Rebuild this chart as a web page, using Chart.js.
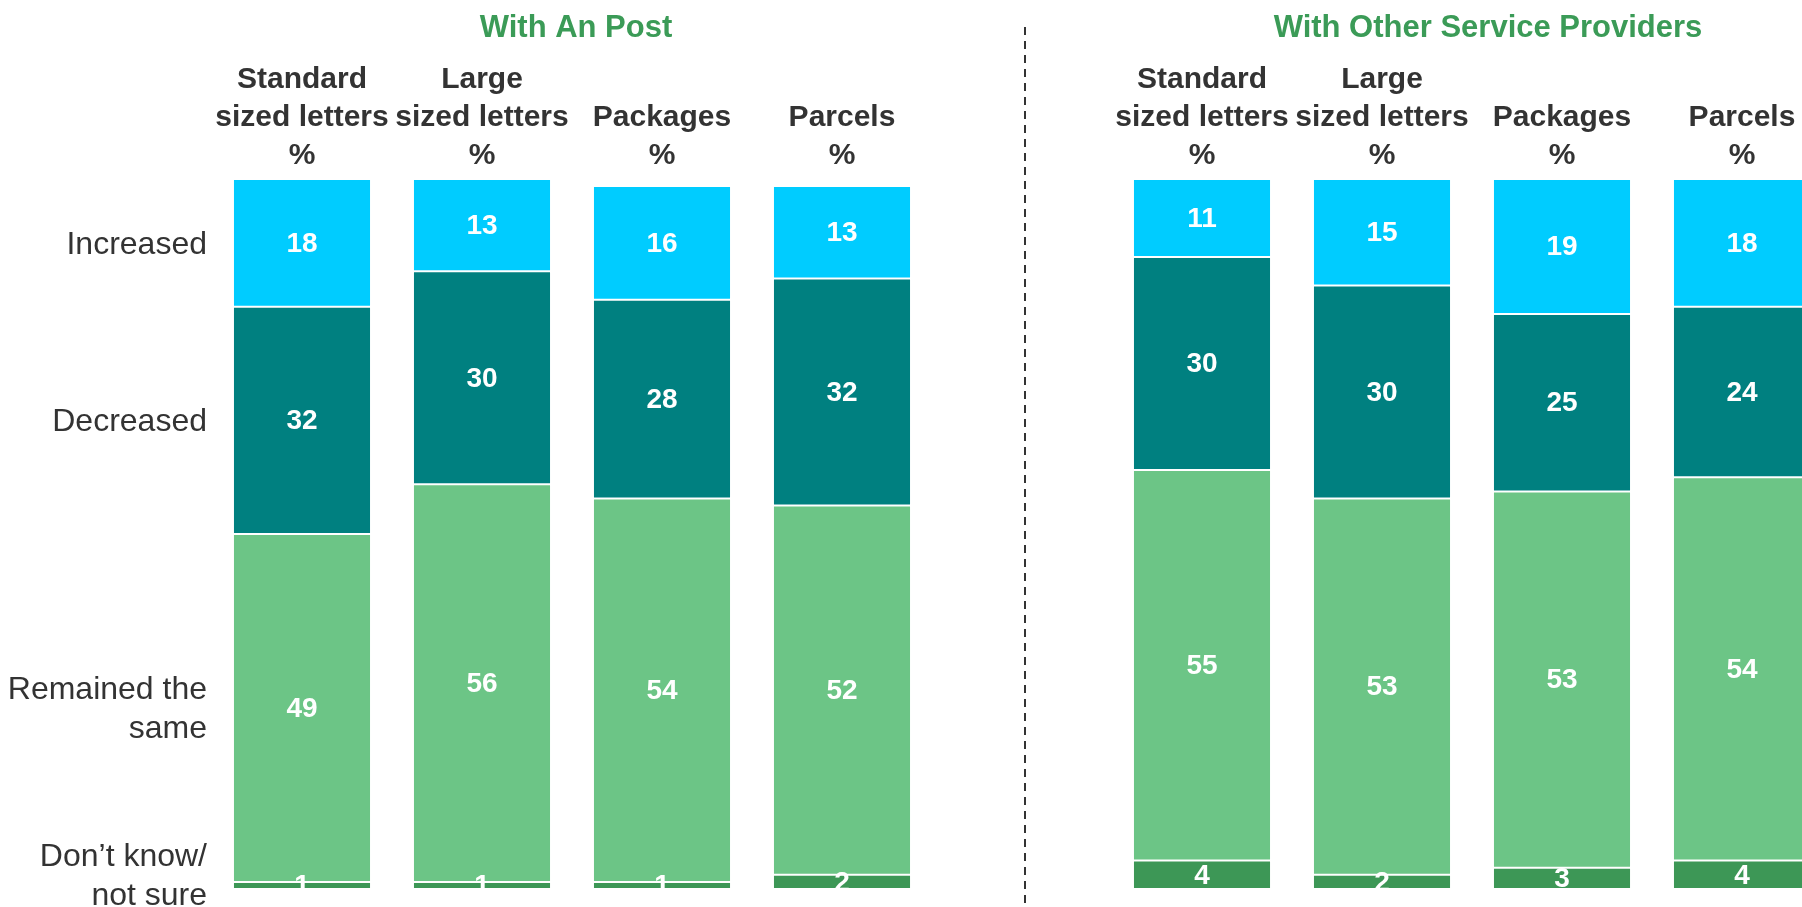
<!DOCTYPE html>
<html>
<head>
<meta charset="utf-8">
<title>Change in postal usage</title>
<script src="https://cdn.jsdelivr.net/npm/chart.js@4.4.1/dist/chart.umd.min.js"></script>
<style>
  html, body { margin: 0; padding: 0; background: #fff; }
  /* last column runs off the right edge, so the canvas is wider than the frame */
  #frame { width: 1802px; height: 907px; overflow: hidden; }
  #wrap { width: 1832px; height: 907px; }
</style>
</head>
<body>
<div id="frame">
  <div id="wrap"><canvas id="usageChart"></canvas></div>
</div>
<script>
// columns (x-axis) and the four answers (stacked segments)
const columns = [
  ["Standard", "sized letters", "%"],
  ["Large", "sized letters", "%"],
  ["Packages", "%"],
  ["Parcels", "%"],
];
const answers = [["Increased"], ["Decreased"], ["Remained the", "same"], ["Don’t know/", "not sure"]];
const groupTitles = ["With An Post", "With Other Service Providers"];

// With An Post
const increasedAnPost = [18, 13, 16, 13];
const decreasedAnPost = [32, 30, 28, 32];
const sameAnPost = [49, 56, 54, 52];
const dontKnowAnPost = [1, 1, 1, 2];

// With other service providers
const increasedOther = [11, 15, 19, 18];
const decreasedOther = [30, 30, 25, 24];
const sameOther = [55, 53, 53, 54];
const dontKnowOther = [4, 2, 3, 4];

const FONT = "'Liberation Sans', Arial, sans-serif";
const TEXT = "#333333";
const GREEN_TITLE = "#3b9b57";

// empty slot in the middle separates the two groups
const labels = [...columns, "", ...columns];
const join = (a, b) => [...a, null, ...b];

const seg = (label, data, color) => ({
  label: label,
  data: data,
  backgroundColor: color,
  borderColor: "#ffffff",
  borderWidth: 1,
  borderSkipped: false,
  barPercentage: 0.767,
  categoryPercentage: 1,
});

// bottom to top
const datasets = [
  seg("Don’t know/ not sure", join(dontKnowAnPost, dontKnowOther), "#3d9756"),
  seg("Remained the same", join(sameAnPost, sameOther), "#6cc586"),
  seg("Decreased", join(decreasedAnPost, decreasedOther), "#008080"),
  seg("Increased", join(increasedAnPost, increasedOther), "#00ccff"),
];

// white numbers in the middle of each segment
const valueLabels = {
  id: "valueLabels",
  afterDatasetsDraw(chart) {
    const ctx = chart.ctx;
    ctx.save();
    ctx.font = "bold 28px " + FONT;
    ctx.fillStyle = "#ffffff";
    ctx.textAlign = "center";
    ctx.textBaseline = "middle";
    chart.data.datasets.forEach((ds, i) => {
      chart.getDatasetMeta(i).data.forEach((bar, j) => {
        if (ds.data[j] == null) return;
        const p = bar.getProps(["x", "y", "base"], true);
        ctx.fillText(ds.data[j], p.x, (p.y + p.base) / 2 + 1);
      });
    });
    ctx.restore();
  },
};

// answer names on the left, group titles and the dashed divider
const decorations = {
  id: "decorations",
  afterDraw(chart) {
    const ctx = chart.ctx;
    const x = chart.scales.x;
    ctx.save();

    // answer labels, lined up with the first bar's segments
    ctx.font = "32px " + FONT;
    ctx.fillStyle = TEXT;
    ctx.textAlign = "right";
    ctx.textBaseline = "middle";
    const lh = 39;
    const n = chart.data.datasets.length;
    answers.forEach((lines, k) => {
      const bar = chart.getDatasetMeta(n - 1 - k).data[0];
      const p = bar.getProps(["y", "base"], true);
      let mid = (p.y + p.base) / 2 + 2;
      mid = Math.min(mid, chart.height - 30);
      const top = mid - ((lines.length - 1) * lh) / 2;
      lines.forEach((t, i) => ctx.fillText(t, x.getPixelForValue(0) - 95, top + i * lh));
    });

    // group titles
    ctx.font = "bold 31px " + FONT;
    ctx.fillStyle = GREEN_TITLE;
    ctx.textAlign = "center";
    const half = columns.length;
    ctx.fillText(groupTitles[0], (x.getPixelForValue(0) + x.getPixelForValue(half - 1)) / 2 + 4, 28);
    ctx.fillText(groupTitles[1], (x.getPixelForValue(half + 1) + x.getPixelForValue(2 * half)) / 2 + 16, 28);

    // dashed divider in the empty slot
    const dx = Math.round(x.getPixelForValue(half)) + 3;
    ctx.strokeStyle = "#333333";
    ctx.lineWidth = 2;
    ctx.setLineDash([8, 6]);
    ctx.beginPath();
    ctx.moveTo(dx, 27);
    ctx.lineTo(dx, 905);
    ctx.stroke();

    ctx.restore();
  },
};

new Chart(document.getElementById("usageChart"), {
  type: "bar",
  data: { labels: labels, datasets: datasets },
  options: {
    responsive: true,
    maintainAspectRatio: false,
    animation: false,
    layout: {
      padding: { left: 212, right: 0, top: 57, bottom: 18 },
    },
    plugins: {
      legend: { display: false },
      tooltip: { enabled: false },
    },
    scales: {
      x: {
        position: "top",
        stacked: true,
        grid: { display: false, drawTicks: false },
        border: { display: false },
        ticks: {
          autoSkip: false,
          maxRotation: 0,
          minRotation: 0,
          padding: 4,
          color: TEXT,
          font: { family: FONT, size: 30, weight: "bold", lineHeight: "38px" },
        },
      },
      y: {
        stacked: true,
        display: false,
        min: 0,
        max: 100,
      },
    },
  },
  plugins: [valueLabels, decorations],
});
</script>
</body>
</html>
